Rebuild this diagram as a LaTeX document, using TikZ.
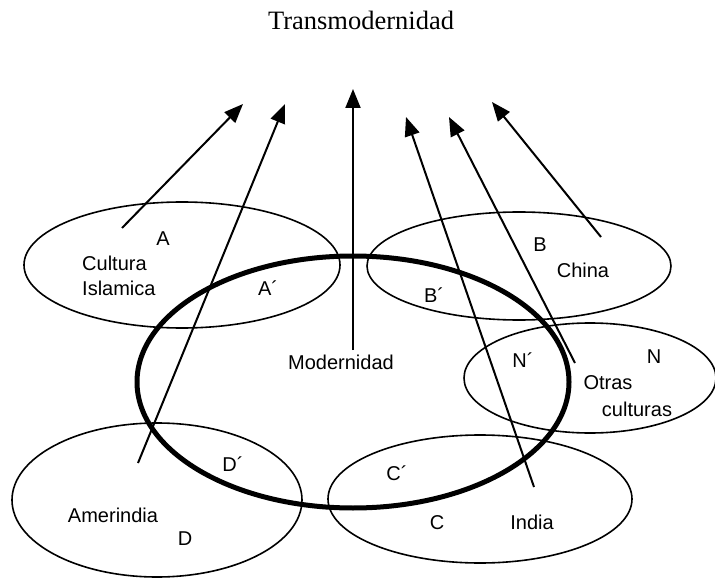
\documentclass[tikz,border=0pt]{standalone}
\usepackage{fontspec}
\setmainfont{Liberation Serif}
\setsansfont{Liberation Sans}
\usetikzlibrary{arrows.meta,shapes.geometric}
\tikzset{
  cult/.style={draw, ellipse, line width=1.6pt, inner sep=0pt},
  modn/.style={draw, ellipse, line width=5pt, inner sep=0pt},
  ar/.style={-{Triangle[length=19pt,width=15pt]}, line width=2pt},
  lbl/.style={font=\sffamily\fontsize{20}{25}\selectfont, inner sep=0pt},
  ttl/.style={font=\rmfamily\fontsize{26.5}{30}\selectfont, inner sep=0pt}
}

\begin{document}
\begin{tikzpicture}[x=1pt,y=-1pt]
\useasboundingbox (0,0) rectangle (715,580);
\node[ttl] (title) at (361,20) {Transmodernidad};
% culturas
\node[cult, minimum width=316pt, minimum height=126pt] (islam) at (182,265) {};
\node[cult, minimum width=304pt, minimum height=108pt] (china) at (519,266) {};
\node[cult, minimum width=252pt, minimum height=110pt] (otras) at (590,378) {};
\node[cult, minimum width=290pt, minimum height=154pt] (amer) at (157,500) {};
\node[cult, minimum width=304pt, minimum height=128pt] (india) at (480,499) {};
\node[modn, minimum width=432pt, minimum height=252pt] (modern) at (353,382) {};
% puntas y colas
\coordinate (tA) at (122,228);  \coordinate (hA) at (243,104);
\coordinate (tD) at (138,463);  \coordinate (hD) at (285,104);
\coordinate (tM) at (353,350);  \coordinate (hM) at (353,89);
\coordinate (tC) at (534,487);  \coordinate (hC) at (406,117);
\coordinate (tN) at (575,363);  \coordinate (hN) at (449,117);
\coordinate (tB) at (601,237);  \coordinate (hB) at (492,102);
\draw[ar](tA)--(hA);\draw[ar](tD)--(hD);\draw[ar](tM)--(hM);
\draw[ar](tC)--(hC);\draw[ar](tN)--(hN);\draw[ar](tB)--(hB);
% textos
\node[lbl] (a) at (163,239) {A};
\node[lbl, align=left, anchor=west] (islamt) at (82,276) {Cultura\\Islamica};
\node[lbl] (a2) at (268,288) {A´};
\node[lbl] (b) at (540,245) {B};
\node[lbl] (chinat) at (583,270) {China};
\node[lbl] (b2) at (434,295) {B´};
\node[lbl] (modt) at (341,362) {Modernidad};
\node[lbl] (n2) at (523,360) {N´};
\node[lbl] (n) at (654,357) {N};
\node[lbl] (otras1) at (608,383) {Otras};
\node[lbl] (otras2) at (637,409) {culturas};
\node[lbl] (d2) at (233,464) {D´};
\node[lbl] (amert) at (113,515) {Amerindia};
\node[lbl] (d) at (185,539) {D};
\node[lbl] (c2) at (397,473) {C´};
\node[lbl] (c) at (437,523) {C};
\node[lbl] (indiat) at (532,522) {India};
\end{tikzpicture}
\end{document}
